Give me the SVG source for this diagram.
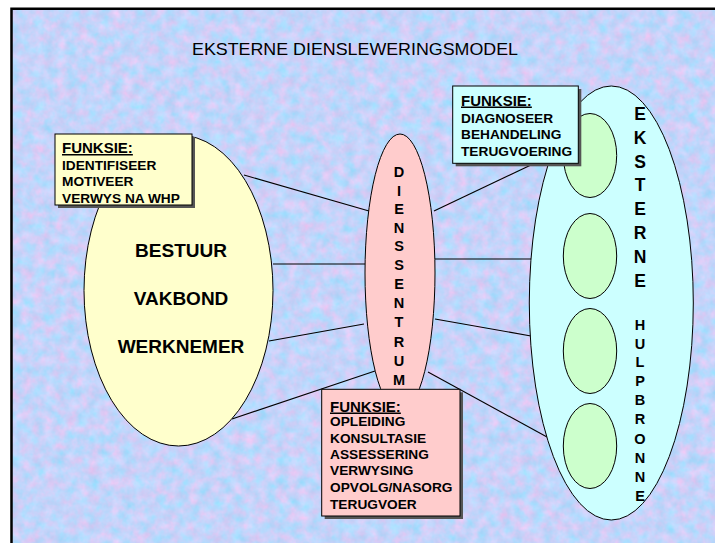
<svg xmlns="http://www.w3.org/2000/svg" width="715" height="543" viewBox="0 0 715 543">
<defs>
<style>
.t{font-family:"Liberation Sans",Arial,sans-serif;font-weight:bold;fill:#000}
.fk{font-size:15px;text-decoration:underline}
.it{font-size:13.7px}
.big{font-size:19px;text-anchor:middle}
.v1{font-size:14.5px;text-anchor:middle}
.v2{font-size:17.5px;text-anchor:middle}
.node{stroke:#000;stroke-width:1}
.shadow{fill:#555}
.box{stroke:#000;stroke-width:1}
.conn line{stroke:#000;stroke-width:1.1}
</style>
<filter id="marble" filterUnits="userSpaceOnUse" x="12" y="10" width="703" height="533" color-interpolation-filters="sRGB">
<feTurbulence type="fractalNoise" baseFrequency="0.09" numOctaves="3" seed="7" result="n"/>
<feColorMatrix in="n" type="matrix" values="0.4 0.1 0 0 0.52  -0.12 0.08 0 0 0.85  -0.06 0.06 0 0 0.98  0 0 0 0 1"/>
</filter>
</defs>
<rect x="0" y="0" width="715" height="543" fill="#fff"/>
<g id="background">
<rect x="12" y="10" width="703" height="533" fill="#c4d2f8" filter="url(#marble)"/>
<path d="M11.5 543 V8.75 H715" fill="none" stroke="#000" stroke-width="2.5"/>
</g>
<text id="title" x="192" y="55" font-family="Liberation Sans, Arial, sans-serif" font-size="17" textLength="326" lengthAdjust="spacingAndGlyphs">EKSTERNE DIENSLEWERINGSMODEL</text>
<g id="connectors" class="conn">
<line x1="244" y1="175" x2="369" y2="211"/>
<line x1="273" y1="264" x2="366" y2="264"/>
<line x1="269" y1="341" x2="364" y2="324"/>
<line x1="232" y1="419" x2="375" y2="371"/>
<line x1="434" y1="211" x2="552" y2="155"/>
<line x1="435" y1="259" x2="531" y2="259"/>
<line x1="435" y1="319" x2="531" y2="336"/>
<line x1="428" y1="372" x2="547" y2="437"/>
</g>
<g id="node-werkgewer">
<ellipse class="node" cx="178.5" cy="290.5" rx="94.5" ry="155.5" fill="#ffffcc"/>
<text class="t big" x="181" y="257">BESTUUR</text>
<text class="t big" x="181" y="305">VAKBOND</text>
<text class="t big" x="181" y="352.5">WERKNEMER</text>
</g>
<g id="node-funksie-links">
<rect class="shadow" x="58" y="137" width="137" height="71"/>
<rect class="box" x="55" y="134" width="137" height="71" fill="#ffffcc"/>
<text class="t fk" x="62" y="153">FUNKSIE:</text>
<text class="t it" x="62" y="169.5">IDENTIFISEER</text>
<text class="t it" x="62" y="186">MOTIVEER</text>
<text class="t it" x="62" y="203">VERWYS NA WHP</text>
</g>
<g id="node-hulpbronne">
<ellipse class="node" cx="611.3" cy="303" rx="82" ry="217" fill="#ccffff"/>
<ellipse class="node" cx="590" cy="155.5" rx="26.7" ry="42" fill="#ccffcc"/>
<ellipse class="node" cx="590" cy="256" rx="26.7" ry="42.5" fill="#ccffcc"/>
<ellipse class="node" cx="590" cy="351" rx="26.7" ry="42.5" fill="#ccffcc"/>
<ellipse class="node" cx="590" cy="446" rx="26.7" ry="42.5" fill="#ccffcc"/>
<text class="t v2" x="640" y="119.5">E</text>
<text class="t v2" x="640" y="143.5">K</text>
<text class="t v2" x="640" y="167.5">S</text>
<text class="t v2" x="640" y="191">T</text>
<text class="t v2" x="640" y="214.5">E</text>
<text class="t v2" x="640" y="238.5">R</text>
<text class="t v2" x="640" y="262.5">N</text>
<text class="t v2" x="640" y="286.5">E</text>
<text class="t v1" x="640" y="330">H</text>
<text class="t v1" x="640" y="348.5">U</text>
<text class="t v1" x="640" y="367">L</text>
<text class="t v1" x="640" y="386">P</text>
<text class="t v1" x="640" y="405">B</text>
<text class="t v1" x="640" y="424">R</text>
<text class="t v1" x="640" y="443.5">O</text>
<text class="t v1" x="640" y="462.5">N</text>
<text class="t v1" x="640" y="481.5">N</text>
<text class="t v1" x="640" y="500.5">E</text>
</g>
<g id="node-funksie-regs">
<rect class="shadow" x="455.7" y="89" width="125.6" height="77.3"/>
<rect class="box" x="452.7" y="86" width="125.6" height="77.3" fill="#ccffff"/>
<text class="t fk" x="461" y="105.5">FUNKSIE:</text>
<text class="t it" x="461" y="122.5">DIAGNOSEER</text>
<text class="t it" x="461" y="139">BEHANDELING</text>
<text class="t it" x="461" y="155.5">TERUGVOERING</text>
</g>
<g id="node-dienssentrum">
<ellipse class="node" cx="400" cy="273" rx="35" ry="139" fill="#ffcccc"/>
<text class="t v1" x="399" y="177">D</text>
<text class="t v1" x="399" y="195.5">I</text>
<text class="t v1" x="399" y="214">E</text>
<text class="t v1" x="399" y="232.5">N</text>
<text class="t v1" x="399" y="251">S</text>
<text class="t v1" x="399" y="270">S</text>
<text class="t v1" x="399" y="289">E</text>
<text class="t v1" x="399" y="308">N</text>
<text class="t v1" x="399" y="327">T</text>
<text class="t v1" x="399" y="346.5">R</text>
<text class="t v1" x="399" y="366">U</text>
<text class="t v1" x="399" y="385">M</text>
</g>
<g id="node-funksie-middel">
<rect class="shadow" x="324.7" y="392.3" width="138.3" height="126.7"/>
<rect class="box" x="321.7" y="389.3" width="138.3" height="126.7" fill="#ffcccc"/>
<text class="t fk" x="330" y="411.5">FUNKSIE:</text>
<text class="t it" x="330" y="426">OPLEIDING</text>
<text class="t it" x="330" y="442.5">KONSULTASIE</text>
<text class="t it" x="330" y="458.5">ASSESSERING</text>
<text class="t it" x="330" y="475">VERWYSING</text>
<text class="t it" x="330" y="492">OPVOLG/NASORG</text>
<text class="t it" x="330" y="508.5">TERUGVOER</text>
</g>
</svg>
